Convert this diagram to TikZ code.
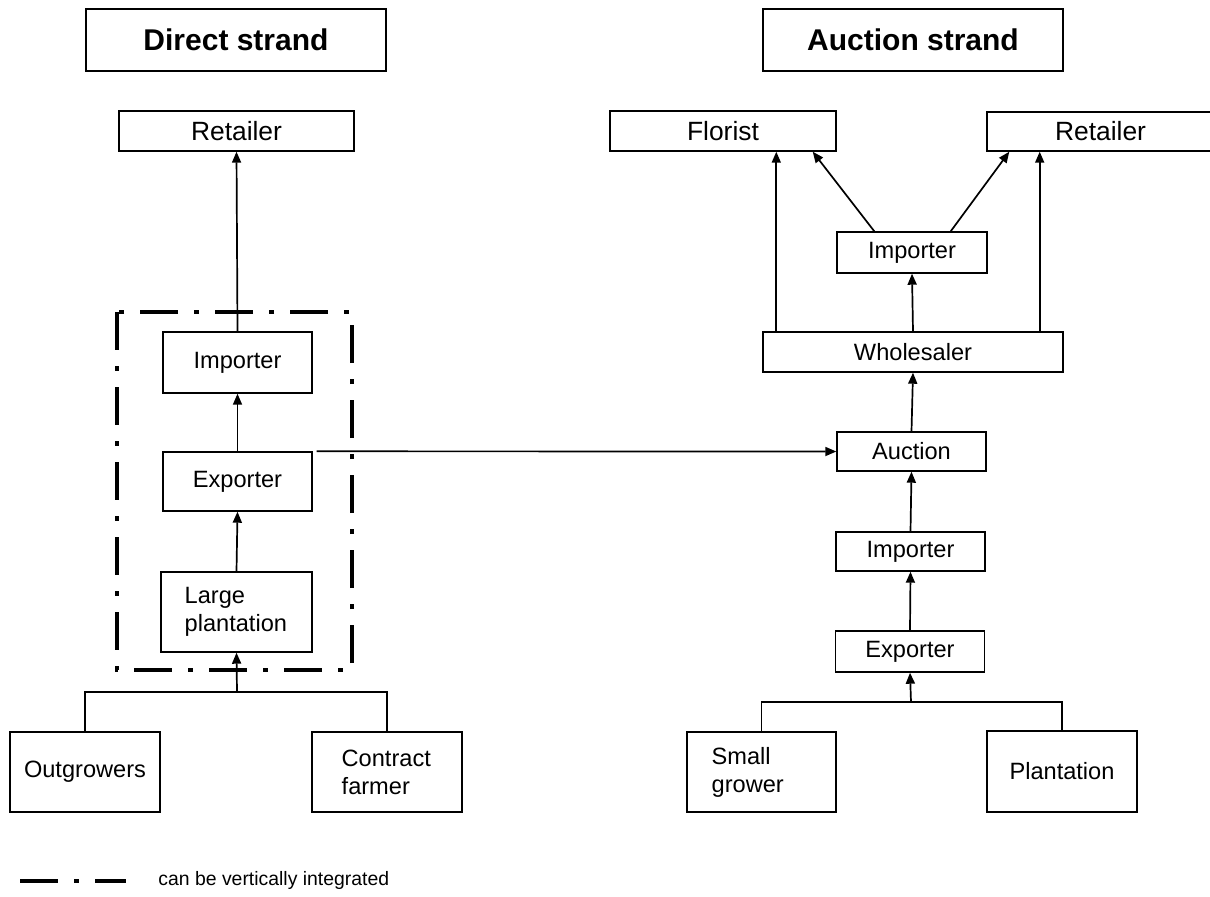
\documentclass[tikz,border=0pt]{standalone}
\usepackage{fontspec}
\setmainfont{Liberation Sans}
\usetikzlibrary{arrows.meta,calc}
\begin{document}
\begin{tikzpicture}[x=0.5pt,y=-0.5pt,
 box/.style={draw,line width=0.7pt,inner sep=0pt,font=\fontsize{11.8}{14}\selectfont},
 topbox/.style={box,font=\fontsize{13.2}{15}\selectfont},
 ttl/.style={draw,line width=0.7pt,inner sep=0pt,minimum width=150pt,minimum height=31pt,font=\fontsize{15}{18}\selectfont\bfseries},
 lbl/.style={inner sep=0pt,align=left,anchor=west,font=\fontsize{11.8}{14}\selectfont},
 arr/.style={line width=0.85pt,-{Triangle[length=5.5pt,width=4.5pt]}},
 ln/.style={line width=0.95pt},
 integ/.style={line width=2.25pt,dash pattern=on 19pt off 8pt on 2.5pt off 8pt}]
\useasboundingbox (0,0) rectangle (1210,896);

% titles
\node[ttl] (dtitle) at (236,40) {Direct strand};
\node[ttl] (atitle) at (913,40) {Auction strand};

% direct strand
\node[topbox,minimum width=117.5pt,minimum height=20pt] (dret) at (236.5,131) {Retailer};
\node[box,minimum width=74.5pt,minimum height=30.5pt] (dimp) at (237.5,362.5) {Importer};
\node[box,minimum width=74.5pt,minimum height=29.5pt] (dexp) at (237.5,481.5) {Exporter};
\node[box,minimum width=75.5pt,minimum height=40pt] (dlp) at (236.5,612) {};
\node[lbl] (dlpt) at ([xshift=12pt]dlp.west) {Large\\plantation};
\node[box,minimum width=75pt,minimum height=40pt] (outg) at (85,772) {Outgrowers};
\node[box,minimum width=75pt,minimum height=40pt] (contr) at (387,772) {};
\node[lbl] (contrt) at ([xshift=15pt]contr.west) {Contract\\farmer};

% auction strand
\node[topbox,minimum width=113pt,minimum height=20pt] (flor) at (723,131) {Florist};
\node[topbox,minimum width=113.5pt,minimum height=19.5pt] (aret) at (1100.5,131.5) {Retailer};
\node[box,minimum width=75pt,minimum height=20.5pt] (aimp1) at (912,252.5) {Importer};
\node[box,minimum width=150pt,minimum height=20pt] (whole) at (913,352) {Wholesaler};
\node[box,minimum width=74.5pt,minimum height=19.5pt] (auc) at (911.5,451.5) {Auction};
\node[box,minimum width=74.5pt,minimum height=19.5pt] (aimp2) at (910.5,551.5) {Importer};
\node[box,minimum width=74.5pt,minimum height=20.5pt] (aexp) at (910,651.5) {Exporter};
\node[box,minimum width=74.5pt,minimum height=40pt] (small) at (761.5,772) {};
\node[lbl] (smallt) at ([xshift=12.5pt]small.west) {Small\\grower};
\node[box,minimum width=75pt,minimum height=40.5pt] (plant) at (1062,771.5) {Plantation};

% vertical integration frame
\draw[integ] (117,312) rectangle (352,670);

% direct connectors
\draw[arr] (dimp.north) -- (dret.south);
\draw[arr] (dexp.north) -- (dimp.south);
\draw[arr] (dlp.north) -- (dexp.south);
\coordinate (jl) at (237,692);
\draw[ln] (outg.north) |- (jl) -| (contr.north);
\draw[arr] (jl) -- (dlp.south);
\draw[arr,shorten <=2pt] (dexp.north east) -- (auc.west);

% auction connectors
\coordinate (jr) at (911,702);
\draw[ln] (small.north) |- (jr) -| (plant.north);
\draw[arr] (jr) -- (aexp.south);
\draw[arr] (aexp.north) -- (aimp2.south);
\draw[arr] (aimp2.north) -- (auc.south);
\draw[arr] (auc.north) -- (whole.south);
\draw[arr] (whole.north) -- (aimp1.south);
\draw[arr] ([xshift=7pt]whole.north west) -- ([xshift=7pt]whole.north west |- flor.south);
\draw[arr] ([xshift=-12pt]whole.north east) -- ([xshift=-12pt]whole.north east |- aret.south);
\draw[arr] ([xshift=19pt]aimp1.north west) -- ([xshift=-12pt]flor.south east);
\draw[arr] ([xshift=-18.5pt]aimp1.north east) -- ([xshift=11.5pt]aret.south west);

% legend
\draw[integ] (20,881) -- (126,881);
\node[inner sep=0pt,anchor=west,font=\fontsize{9.7}{12}\selectfont] (leg) at (158,880) {can be vertically integrated};
\end{tikzpicture}
\end{document}
